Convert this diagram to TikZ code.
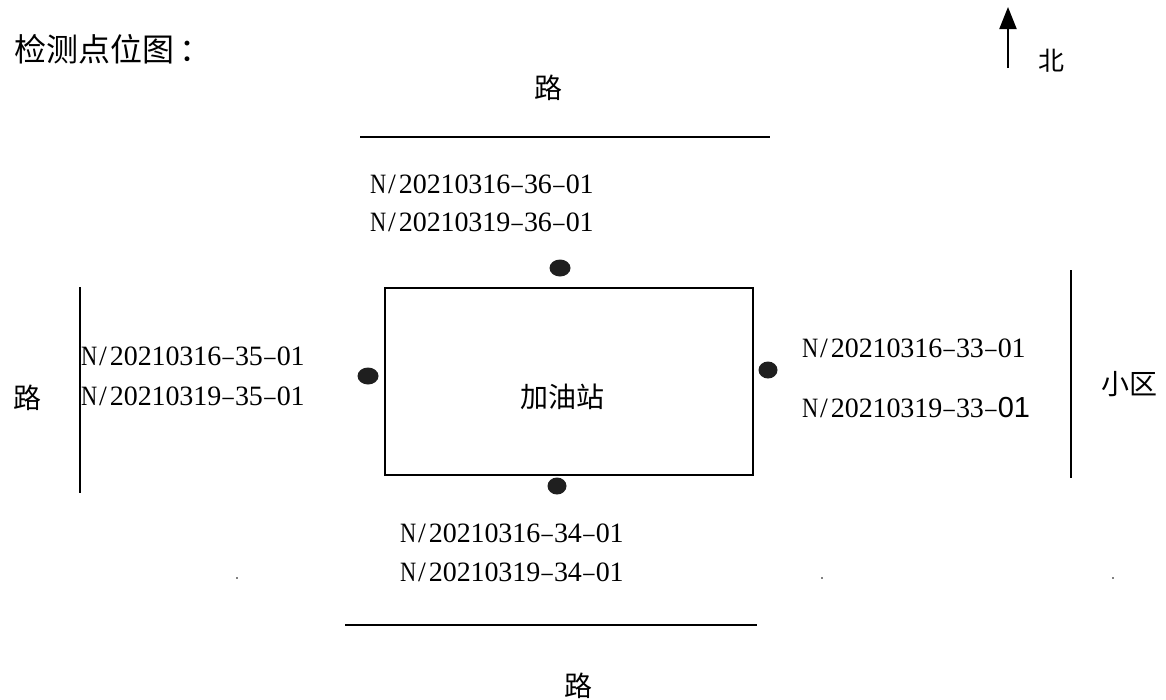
\documentclass[tikz,border=0pt]{standalone}
\usepackage{fontspec}
\setmainfont{Liberation Serif}
\newfontfamily\cjk{Noto Sans CJK SC}
\newfontfamily\lsans{Liberation Sans}
\usetikzlibrary{arrows.meta}
\makeatletter
\newcommand{\mono}[1]{\@tfor\mc:=#1\do{\makebox[13.9pt]{\mc}}}
\makeatother
\newcommand{\nn}{\scalebox{0.8}[1]{N}}
\newcommand{\dd}{\scalebox{0.8}[1]{–}}
\newcommand{\sanstxt}[1]{{\lsans\fontsize{29}{30}\selectfont #1}}
\tikzset{
  cn/.style={font=\cjk\fontsize{28}{30}\selectfont, inner sep=0pt},
  code/.style={font=\fontsize{28}{30}\selectfont, inner sep=0pt, anchor=west},
  road/.style={line width=1.7pt},
}
\begin{document}
\begin{tikzpicture}[x=1pt,y=-1pt]
\useasboundingbox (0,0) rectangle (1166,699);
% title
\node[cn, anchor=west, font=\cjk\fontsize{32}{34}\selectfont] (title) at (14,49) {检测点位图\hspace{5pt}：};
% north arrow
\coordinate (nb) at (1008,68);
\coordinate (nt) at (1008,7);
\draw[line width=2pt, -{Triangle[length=22pt,width=17pt]}] (nb) -- (nt);
\node[cn, font=\cjk\fontsize{26}{28}\selectfont] (north) at (1051,61) {北};
% roads
\node[cn] (roadN) at (548,88) {路};
\coordinate (ln1) at (360,137); \coordinate (ln2) at (770,137);
\draw[road] (ln1) -- (ln2);
\node[cn] (roadW) at (27,398) {路};
\coordinate (lw1) at (80,287); \coordinate (lw2) at (80,493);
\draw[road] (lw1) -- (lw2);
\node[cn] (roadS) at (578,686) {路};
\coordinate (ls1) at (345,625); \coordinate (ls2) at (757,625);
\draw[road] (ls1) -- (ls2);
\node[cn] (area) at (1129,384) {小区};
\coordinate (le1) at (1071,270); \coordinate (le2) at (1071,478);
\draw[road] (le1) -- (le2);
% station
\node[draw, line width=1.7pt, minimum width=368pt, minimum height=187pt, inner sep=0pt] (box) at (569,381.5) {};
\node[cn] (station) at (562,397) {加油站};
% points
\fill[black!88] (560,268) ellipse (10.5pt and 8.5pt);
\fill[black!88] (368,376) ellipse (10.5pt and 8.5pt);
\fill[black!88] (768,370) ellipse (9.5pt and 8.5pt);
\fill[black!88] (557,486) ellipse (9.5pt and 8.5pt);
% labels
\node[code] (t1) at (371,184) {\mono{\nn/20210316\dd36\dd01}};
\node[code] (t2) at (371,222) {\mono{\nn/20210319\dd36\dd01}};
\node[code] (w1) at (82,356) {\mono{\nn/20210316\dd35\dd01}};
\node[code] (w2) at (82,396) {\mono{\nn/20210319\dd35\dd01}};
\node[code] (e1) at (803,348) {\mono{\nn/20210316\dd33\dd01}};
\node[code] (e2) at (803,408) {\mono{\nn/20210319\dd33\dd}\sanstxt{01}};
\node[code] (s1) at (401,533) {\mono{\nn/20210316\dd34\dd01}};
\node[code] (s2) at (401,572) {\mono{\nn/20210319\dd34\dd01}};
% specks
\fill (237,578) circle (0.9pt);
\fill (822,578) circle (0.9pt);
\fill (1113,578) circle (0.9pt);
\end{tikzpicture}
\end{document}
